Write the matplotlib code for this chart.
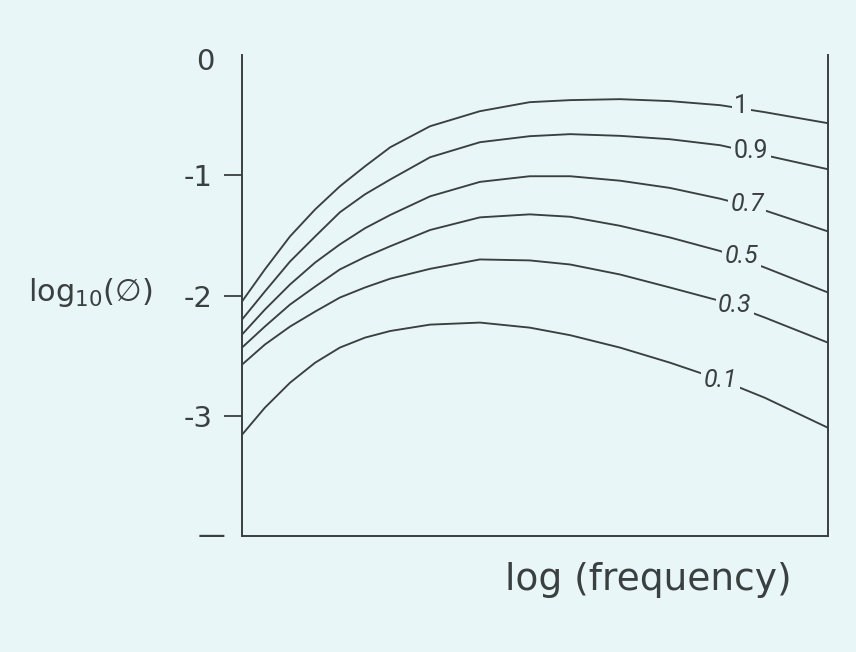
import matplotlib
matplotlib.use("Agg")
import matplotlib.pyplot as plt

# data (log frequency in arbitrary units 0..1, log10(phi))
x = [0.0, 0.039, 0.082, 0.125, 0.167, 0.210, 0.253, 0.321, 0.406, 0.491,
     0.560, 0.645, 0.730, 0.816, 0.892, 1.0]
series_labels = ["1", "0.9", "0.7", "0.5", "0.3", "0.1"]
y_1 = [-2.050, -1.783, -1.508, -1.283, -1.092, -0.925, -0.767, -0.592, -0.467,
       -0.392, -0.375, -0.367, -0.383, -0.417, -0.475, -0.567]
y_09 = [-2.200, -1.967, -1.717, -1.508, -1.308, -1.158, -1.035, -0.850, -0.725,
        -0.675, -0.658, -0.672, -0.700, -0.750, -0.833, -0.950]
y_07 = [-2.325, -2.117, -1.908, -1.725, -1.575, -1.440, -1.330, -1.175, -1.055,
        -1.008, -1.008, -1.045, -1.105, -1.195, -1.292, -1.467]
y_05 = [-2.433, -2.258, -2.075, -1.925, -1.783, -1.680, -1.590, -1.455, -1.350,
        -1.325, -1.345, -1.420, -1.517, -1.630, -1.767, -1.975]
y_03 = [-2.575, -2.408, -2.258, -2.133, -2.017, -1.933, -1.860, -1.778, -1.700,
        -1.708, -1.742, -1.825, -1.933, -2.045, -2.183, -2.392]
y_01 = [-3.158, -2.933, -2.725, -2.558, -2.433, -2.350, -2.295, -2.242, -2.225,
        -2.267, -2.330, -2.433, -2.558, -2.700, -2.850, -3.100]
series = [y_1, y_09, y_07, y_05, y_03, y_01]
label_pos = [(0.852, -0.425), (0.869, -0.800), (0.862, -1.242),
             (0.852, -1.675), (0.841, -2.083), (0.817, -2.700)]
label_style = ["normal", "normal", "oblique", "oblique", "italic", "italic"]
yticks = [0, -1, -2, -3, -4]
yticklabels = ["", "-1", "-2", "-3", ""]

bg = "#e8f6f8"
ink = "#3a3f3f"

fig = plt.figure(figsize=(8.56, 6.52), dpi=100, facecolor=bg)
ax = fig.add_axes([0.2827, 0.1779, 0.6846, 0.7377], facecolor=bg)

for ys in series:
    ax.plot(x, ys, color=ink, lw=1.35, solid_capstyle="round",
            solid_joinstyle="round")

for lab, (lx, ly), st in zip(series_labels, label_pos, label_style):
    ax.text(lx, ly, lab, fontsize=18, color=ink, ha="center", va="center",
            family="Roboto", style=st,
            bbox=dict(boxstyle="square,pad=0.1", fc=bg, ec="none"), zorder=5)

ax.set_xlim(0, 1)
ax.set_ylim(-4, 0)
ax.spines["top"].set_visible(False)
for s in ["left", "right", "bottom"]:
    ax.spines[s].set_color(ink)
    ax.spines[s].set_linewidth(1.4)

ax.set_xticks([])
ax.set_yticks(yticks)
ax.set_yticklabels(yticklabels, fontsize=21, color=ink)
ax.tick_params(axis="y", direction="out", length=13, width=1.3, color=ink, pad=8)
for i, t in enumerate(ax.yaxis.get_major_ticks()):
    if yticks[i] in (0, -4):
        t.tick1line.set_visible(False)
# "0" label (sits slightly below the axis top) and bottom dash mark at -4
ax.annotate("0", xy=(0, 0), xytext=(-19.5, -5), textcoords="offset points",
            ha="right", va="center", fontsize=21, color=ink, annotation_clip=False)
ax.annotate("\u2014", xy=(0, -4), xytext=(-12, 0), textcoords="offset points",
            ha="right", va="center", fontsize=20, color=ink, annotation_clip=False)

fig.text(0.105, 0.552, "log$_{10}$(\u2205)", fontsize=22, color=ink,
         ha="center", va="center")
fig.text(0.757, 0.110, "log (frequency)", fontsize=27, color=ink,
         ha="center", va="center")

fig.savefig("out.png", dpi=100, facecolor=bg)
